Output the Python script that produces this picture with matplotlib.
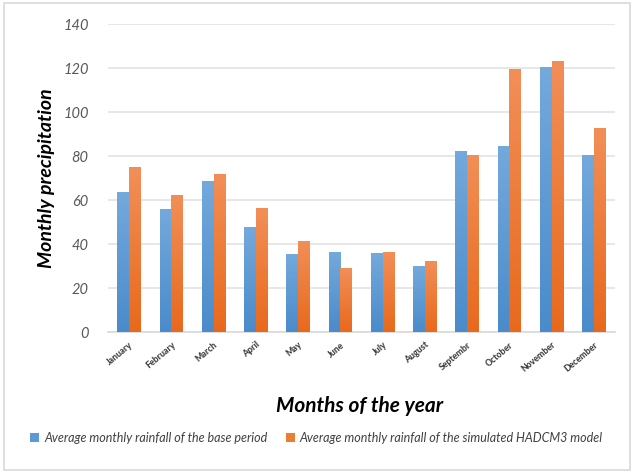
import numpy as np
import matplotlib
matplotlib.use('Agg')
import matplotlib.pyplot as plt
from matplotlib.patches import Rectangle
from matplotlib.colors import LinearSegmentedColormap

plt.rcParams['font.family'] = ['Lato', 'DejaVu Sans']

months = ['January', 'February', 'March', 'April', 'May', 'June',
          'July', 'August', 'Septembr', 'October', 'November', 'December']
base_period = [63.6, 55.8, 68.6, 47.9, 35.5, 36.4, 35.9, 29.9, 82.3, 84.5, 120.3, 80.6]
hadcm3 = [74.9, 62.5, 71.7, 56.2, 41.5, 29.3, 36.4, 32.5, 80.6, 119.4, 123.4, 92.6]
labels = ['Average monthly rainfall of the base period',
          'Average monthly rainfall of the simulated HADCM3 model']

fig = plt.figure(figsize=(6.33, 4.72), dpi=100)
ax = fig.add_axes([0.1706, 0.2966, 0.801, 0.6525])

# light outer frame round the whole chart
fig.patches.append(Rectangle((0.006, 0.004), 0.99, 0.99, transform=fig.transFigure,
                             fill=False, edgecolor='#D9D9D9', linewidth=1.2))

x = np.arange(len(months))
w = 0.28
blue_map = LinearSegmentedColormap.from_list('b', ['#4A8BCB', '#74A9DC'])
orange_map = LinearSegmentedColormap.from_list('o', ['#E8691C', '#F28F58'])
grad = np.linspace(0, 1, 256).reshape(-1, 1)

bars1 = ax.bar(x - w / 2, base_period, w, color='#5B9BD5', label=labels[0], zorder=2)
bars2 = ax.bar(x + w / 2, hadcm3, w, color='#ED7D31', label=labels[1], zorder=2)

# fill each bar with a vertical gradient
for bars, cmap in [(bars1, blue_map), (bars2, orange_map)]:
    for b in bars:
        x0, y0 = b.get_x(), b.get_y()
        x1, y1 = x0 + b.get_width(), y0 + b.get_height()
        im = ax.imshow(grad, cmap=cmap, origin='lower', aspect='auto',
                       extent=[x0, x1, y0, y1], zorder=3)
        im.set_clip_path(b)

ax.set_xlim(-0.5, len(months) - 0.5)
ax.set_ylim(0, 140)
ax.set_yticks(range(0, 141, 20))
ax.yaxis.grid(True, color='#E3E3E3', linewidth=1.2, zorder=0)
ax.set_axisbelow(True)
for s in ['top', 'right', 'left']:
    ax.spines[s].set_visible(False)
ax.spines['bottom'].set_color('#D9D9D9')
ax.spines['bottom'].set_linewidth(1.2)
ax.tick_params(axis='both', length=0)
ax.tick_params(axis='y', pad=14, labelsize=10.5, labelcolor='#595959')
for t in ax.get_yticklabels():
    t.set_fontstyle('italic')

ax.set_xticks(x)
ax.set_xticklabels(months, rotation=40, ha='right', va='top', rotation_mode='anchor',
                   fontsize=6.3, fontweight='black', color='#404040')
ax.tick_params(axis='x', pad=6)

ax.set_ylabel('Monthly precipitation', fontsize=14, fontweight='bold',
              fontstyle='italic')
ax.yaxis.set_label_coords(-0.105, 0.5)
fig.text(0.568, 0.14, 'Months of the year', ha='center', va='center',
         fontsize=15, fontweight='bold', fontstyle='italic')

leg = fig.legend(handles=[bars1, bars2], loc='center', bbox_to_anchor=(0.5, 0.072),
                 ncol=2, frameon=False, fontsize=9, handlelength=0.7,
                 handleheight=0.7, handletextpad=0.4, columnspacing=1.5)
for t in leg.get_texts():
    t.set_fontstyle('italic')
    t.set_color('#404040')

fig.savefig('out.png', dpi=100)
